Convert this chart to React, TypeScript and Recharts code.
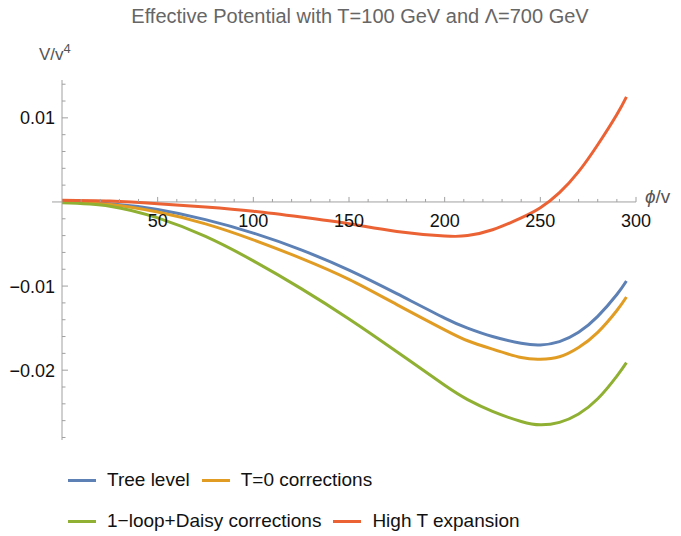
import React from "react";
import { LineChart, Line, XAxis, YAxis, ReferenceLine } from "recharts";

// phi/v sample points
const phi = [0, 25, 50, 75, 100, 125, 150, 175, 200, 212, 225, 240, 250, 260, 270, 280, 290, 295];

// V/v^4
const treeLevel = [0, -0.0002, -0.0009, -0.0021, -0.0037, -0.0057, -0.0081, -0.0109, -0.0138, -0.015, -0.016, -0.0168, -0.017, -0.0166, -0.0155, -0.0136, -0.011, -0.0094];
const tZero = [0, -0.0003, -0.0012, -0.0026, -0.0045, -0.0067, -0.0092, -0.0122, -0.0152, -0.0165, -0.0175, -0.0185, -0.0187, -0.0184, -0.0173, -0.0155, -0.0129, -0.0113];
const daisy = [-0.0001, -0.0005, -0.0019, -0.0041, -0.007, -0.0103, -0.0139, -0.0178, -0.0218, -0.0235, -0.0249, -0.0261, -0.0265, -0.0262, -0.0252, -0.0234, -0.0207, -0.0191];
const highT = [0.0002, 0.0001, -0.0002, -0.0006, -0.0011, -0.0018, -0.0026, -0.0035, -0.00405, -0.004, -0.0033, -0.0019, -0.0007, 0.0011, 0.0036, 0.0068, 0.0104, 0.0125];

const xMajor = [50, 100, 150, 200, 250, 300];
const xTicks = [10, 20, 30, 40, 50, 60, 70, 80, 90, 100, 110, 120, 130, 140, 150, 160, 170, 180, 190, 200, 210, 220, 230, 240, 250, 260, 270, 280, 290, 300];
const yMajor = [0.01, 0, -0.01, -0.02];
const yTicks = [0.014, 0.012, 0.01, 0.008, 0.006, 0.004, 0.002, 0, -0.002, -0.004, -0.006, -0.008, -0.01, -0.012, -0.014, -0.016, -0.018, -0.02, -0.022, -0.024, -0.026, -0.028];

const seriesNames = ["Tree level", "T=0 corrections", "1\u2212loop+Daisy corrections", "High T expansion"];
const colors = ["#5E81B5", "#E19C24", "#8FB032", "#EB6235"];

const data = phi.map((p, i) => ({
  phi: p,
  tree: treeLevel[i],
  tzero: tZero[i],
  daisy: daisy[i],
  highT: highT[i],
}));

const W = 681;
const H = 536;
const M = { top: 80, right: 45, bottom: 0, left: 0 };
const Y_AXIS_W = 62;
const X_AXIS_H = 96;
const Y_DOMAIN: [number, number] = [-0.0283, 0.0145];
const plotH = H - M.top - X_AXIS_H;
const yZero = M.top + (plotH * Y_DOMAIN[1]) / (Y_DOMAIN[1] - Y_DOMAIN[0]);

const AXIS = "#a0a0a0";
const FONT = "'Liberation Sans', Arial, sans-serif";

const fmt = (v: number) => (v < 0 ? "\u2212" + Math.abs(v) : String(v));

const XTick = (props: any) => {
  const { x, payload } = props;
  const major = xMajor.includes(payload.value);
  return (
    <g>
      <line x1={x} x2={x} y1={yZero} y2={yZero - (major ? 5 : 3)} stroke={AXIS} />
      {major && (
        <text x={x} y={yZero + 25} textAnchor="middle" fontSize={18} fontFamily={FONT} fill="#111">
          {payload.value}
        </text>
      )}
    </g>
  );
};

const YTick = (props: any) => {
  const { y, payload } = props;
  const x = Y_AXIS_W;
  const v = payload.value;
  const major = yMajor.includes(v);
  return (
    <g>
      {v === 0 ? (
        <line x1={x - 10} x2={x} y1={y} y2={y} stroke={AXIS} />
      ) : (
        <line x1={x} x2={x + (major ? 6 : 3.5)} y1={y} y2={y} stroke={AXIS} />
      )}
      {major && v !== 0 && (
        <text x={x - 7} y={y + 6.5} textAnchor="end" fontSize={18} fontFamily={FONT} fill="#111">
          {fmt(v)}
        </text>
      )}
    </g>
  );
};

const LegendItem = ({ i }: { i: number }) => (
  <span style={{ display: "inline-flex", alignItems: "center", marginRight: 12 }}>
    <span style={{ display: "inline-block", width: 28, height: 3, background: colors[i], marginRight: 11 }} />
    <span>{seriesNames[i]}</span>
  </span>
);

const legendRow = { position: "absolute" as const, left: 68, height: 24, lineHeight: "24px", display: "flex", whiteSpace: "nowrap" as const };

export default function App() {
  return (
    <div style={{ position: "absolute", left: 0, top: 0, width: W, height: H, background: "#fff", fontFamily: FONT, overflow: "hidden" }}>
      <div style={{ position: "absolute", left: 0, width: 720, top: 5, textAlign: "center", fontSize: 20, color: "#666" }}>
        Effective Potential with T=100 GeV and Λ=700 GeV
      </div>
      <div style={{ position: "absolute", left: 39, top: 41, fontSize: 17, color: "#555" }}>
        V/v<sup style={{ fontSize: 13 }}>4</sup>
      </div>
      <div style={{ position: "absolute", left: 645, top: yZero - 16, fontSize: 19, color: "#555" }}>
        <i>ϕ</i>/v
      </div>
      <LineChart width={W} height={H} data={data} margin={M}>
        <XAxis
          dataKey="phi"
          type="number"
          domain={[0, 300]}
          ticks={xTicks}
          interval={0}
          axisLine={false}
          tickLine={false}
          height={X_AXIS_H}
          tick={<XTick />}
        />
        <YAxis
          type="number"
          domain={Y_DOMAIN}
          ticks={yTicks}
          interval={0}
          allowDataOverflow
          width={Y_AXIS_W}
          axisLine={{ stroke: AXIS }}
          tickLine={false}
          tick={<YTick />}
        />
        <ReferenceLine y={0} stroke={AXIS} />
        <Line dataKey="tree" name={seriesNames[0]} type="natural" stroke={colors[0]} strokeWidth={3} dot={false} isAnimationActive={false} />
        <Line dataKey="tzero" name={seriesNames[1]} type="natural" stroke={colors[1]} strokeWidth={3} dot={false} isAnimationActive={false} />
        <Line dataKey="daisy" name={seriesNames[2]} type="natural" stroke={colors[2]} strokeWidth={3} dot={false} isAnimationActive={false} />
        <Line dataKey="highT" name={seriesNames[3]} type="natural" stroke={colors[3]} strokeWidth={3} dot={false} isAnimationActive={false} />
      </LineChart>
      <div style={{ fontSize: 19, color: "#111" }}>
        <div style={{ ...legendRow, top: 468 }}>
          <LegendItem i={0} />
          <LegendItem i={1} />
        </div>
        <div style={{ ...legendRow, top: 509 }}>
          <LegendItem i={2} />
          <LegendItem i={3} />
        </div>
      </div>
    </div>
  );
}
